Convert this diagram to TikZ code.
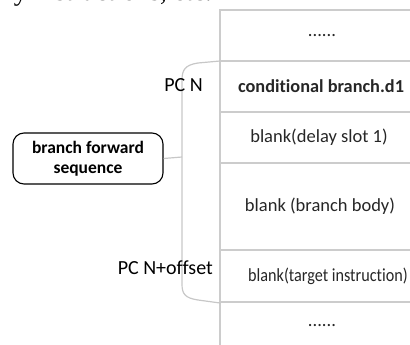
\documentclass[tikz,border=0pt]{standalone}
\usepackage{fontspec}
\setmainfont[Ligatures=NoCommon]{Carlito}
\newfontfamily\bodyserif{Liberation Serif}
\begin{document}
\begin{tikzpicture}[x=1pt,y=-1pt,
  grid/.style={draw=black!20, line width=1.4pt},
  brace/.style={draw=black!22, line width=1.2pt},
  cell/.style={inner sep=0pt, text=black!85, font=\fontsize{18.5}{21}\selectfont},
  boldcell/.style={cell, font=\fontsize{18.3}{21}\selectfont\bfseries},
  pclabel/.style={inner sep=0pt, anchor=east, font=\fontsize{20}{24}\selectfont},
  seqbox/.style={draw=black, line width=1.1pt, rounded corners=11pt,
    minimum width=150pt, minimum height=51pt, align=center,
    font=\fontsize{17.5}{20}\selectfont\bfseries}]
\useasboundingbox (0,0) rectangle (410,345);
\begin{scope}
\clip (0,0) rectangle (410,345);
% running text of the page, cut by the frame
\node[anchor=base east, inner sep=0pt, font=\bodyserif\fontsize{27}{30}\selectfont]
  (runtext) at (212,1) {ly instructions, etc.};
% memory column: outer edges and row separators
\draw[grid] (220,345) -- (220,10) -- (430,10);
\foreach \yy in {61,112,163,250,302} \draw[grid] (220,\yy) -- (430,\yy);
% row contents
\node[cell] (r0) at (322,35.5) {......};
\node[boldcell] (r1) at (321,86) {conditional branch.d1};
\node[cell] (r2) at (319,137.5) {blank(delay slot 1)};
\node[cell] (r3) at (320,206.5) {blank (branch body)};
\node[cell, anchor=west] (r4) at (248,276) {\scalebox{0.875}[1]{blank(target instruction)}};
\node[cell] (r5) at (322,326) {......};
% bracket covering PC N .. PC N+offset
\coordinate (btop) at (220,61);
\coordinate (bbot) at (220,303);
\coordinate (bmid) at (182,157);
\draw[brace] (btop) -- (198,63) .. controls (185,65) and (182,70) .. (182,80)
  -- (bmid) -- (182,284) .. controls (182,294) and (185,298) .. (198,300) -- (bbot);
% labels
\node[pclabel] (pcn) at (203,85) {PC N};
\node[pclabel] (pcoff) at (213,268) {PC N+offset};
% sequence box and its tick to the bracket
\node[seqbox] (seq) at (88,158.5) {branch forward\\sequence};
\draw[brace] (seq.east) -- (bmid);
\end{scope}
\end{tikzpicture}
\end{document}
